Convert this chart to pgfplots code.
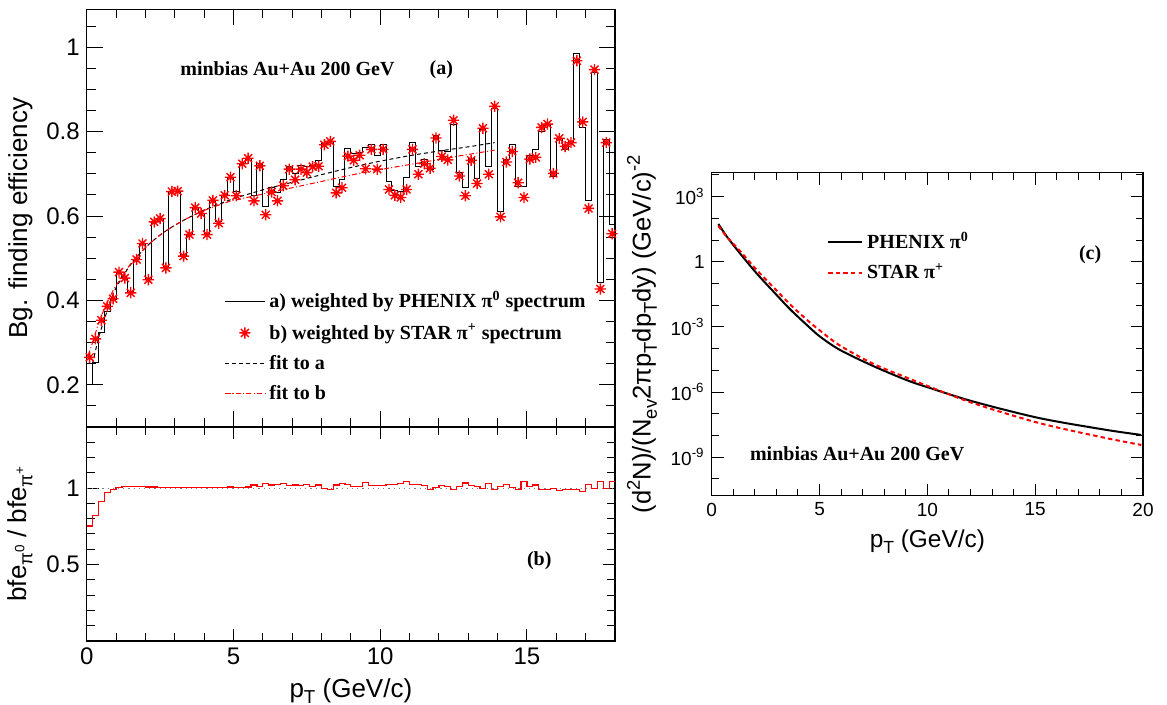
\documentclass[border=0pt]{standalone}
\usepackage{fontspec}
\setmainfont{Liberation Sans}
\newfontfamily\tnr{Liberation Serif}
\usepackage{graphicx}
\usepackage{pgfplots}
\usepackage{pgfplotstable}
\pgfplotsset{compat=1.18}

% ROOT style 8-spoke star marker
\pgfdeclareplotmark{rstar}{%
  \pgfpathmoveto{\pgfqpoint{-\pgfplotmarksize}{0pt}}\pgfpathlineto{\pgfqpoint{\pgfplotmarksize}{0pt}}%
  \pgfpathmoveto{\pgfqpoint{0pt}{-\pgfplotmarksize}}\pgfpathlineto{\pgfqpoint{0pt}{\pgfplotmarksize}}%
  \pgfpathmoveto{\pgfqpoint{-0.707\pgfplotmarksize}{-0.707\pgfplotmarksize}}\pgfpathlineto{\pgfqpoint{0.707\pgfplotmarksize}{0.707\pgfplotmarksize}}%
  \pgfpathmoveto{\pgfqpoint{-0.707\pgfplotmarksize}{0.707\pgfplotmarksize}}\pgfpathlineto{\pgfqpoint{0.707\pgfplotmarksize}{-0.707\pgfplotmarksize}}%
  \pgfusepathqstroke}

\newcommand{\sbs}[1]{\raisebox{-0.45ex}{\scalebox{0.72}{#1}}}
\newcommand{\sps}[1]{\raisebox{0.8ex}{\scalebox{0.72}{#1}}}

% 0.2 GeV/c bins: lower edge, centre, a (PHENIX weighted), b (STAR weighted), ratio
\pgfplotstableread{
lo mid a b r
0.0 0.1 0.200 0.265 0.752
0.2 0.3 0.254 0.309 0.823
0.4 0.5 0.323 0.353 0.914
0.6 0.7 0.374 0.386 0.970
0.8 0.9 0.402 0.404 0.991
1.0 1.1 0.467 0.467 1.006
1.2 1.3 0.453 0.453 1.010
1.4 1.5 0.418 0.418 1.010
1.6 1.7 0.497 0.497 1.012
1.8 1.9 0.535 0.535 1.010
2.0 2.1 0.449 0.449 1.008
2.2 2.3 0.586 0.586 1.008
2.4 2.5 0.594 0.594 1.006
2.6 2.7 0.477 0.477 1.004
2.8 2.9 0.658 0.658 1.004
3.0 3.1 0.659 0.659 1.003
3.2 3.3 0.505 0.505 1.002
3.4 3.5 0.556 0.556 1.002
3.6 3.7 0.620 0.620 1.002
3.8 3.9 0.606 0.606 1.003
4.0 4.1 0.556 0.556 1.003
4.2 4.3 0.637 0.637 1.004
4.4 4.5 0.588 0.583 1.006
4.6 4.7 0.649 0.649 1.004
4.8 4.9 0.691 0.692 1.008
5.0 5.1 0.657 0.648 1.006
5.2 5.3 0.724 0.724 1.004
5.4 5.5 0.737 0.737 1.008
5.6 5.7 0.649 0.636 1.020
5.8 5.9 0.724 0.719 1.009
6.0 6.1 0.622 0.603 1.031
6.2 6.3 0.668 0.657 1.020
6.4 6.5 0.655 0.636 1.026
6.6 6.7 0.686 0.672 1.031
6.8 6.9 0.718 0.711 1.015
7.0 7.1 0.700 0.686 1.020
7.2 7.3 0.720 0.711 1.015
7.4 7.5 0.717 0.703 1.024
7.6 7.7 0.720 0.717 1.011
7.8 7.9 0.731 0.718 1.020
8.0 8.1 0.772 0.769 1.000
8.2 8.3 0.777 0.777 0.993
8.4 8.5 0.669 0.655 1.020
8.6 8.7 0.687 0.667 1.031
8.8 8.9 0.759 0.742 1.026
9.0 9.1 0.749 0.732 1.011
9.2 9.3 0.751 0.744 1.009
9.4 9.5 0.762 0.712 1.037
9.6 9.7 0.769 0.758 1.015
9.8 9.9 0.743 0.711 1.015
10.0 10.1 0.769 0.758 1.015
10.2 10.3 0.683 0.663 1.026
10.4 10.5 0.661 0.649 1.022
10.6 10.7 0.657 0.644 1.031
10.8 10.9 0.691 0.663 1.044
11.0 11.1 0.774 0.758 1.026
11.2 11.3 0.717 0.699 1.022
11.4 11.5 0.735 0.724 1.015
11.6 11.7 0.711 0.713 0.989
11.8 11.9 0.792 0.785 1.004
12.0 12.1 0.756 0.741 1.015
12.2 12.3 0.754 0.733 1.011
12.4 12.5 0.816 0.827 0.989
12.6 12.7 0.703 0.695 1.009
12.8 12.9 0.667 0.648 1.033
13.0 13.1 0.736 0.732 1.015
13.2 13.3 0.690 0.677 1.011
13.4 13.5 0.806 0.808 1.000
13.6 13.7 0.717 0.699 1.031
13.8 13.9 0.854 0.860 0.989
14.0 14.1 0.610 0.598 1.011
14.2 14.3 0.735 0.728 1.026
14.4 14.5 0.769 0.753 1.004
14.6 14.7 0.671 0.679 0.993
14.8 14.9 0.671 0.644 1.046
15.0 15.1 0.743 0.735 1.009
15.2 15.3 0.757 0.739 1.020
15.4 15.5 0.800 0.810 0.989
15.6 15.7 0.818 0.818 0.993
15.8 15.9 0.693 0.701 1.000
16.0 16.1 0.784 0.784 0.982
16.2 16.3 0.757 0.765 0.993
16.4 16.5 0.776 0.774 0.989
16.6 16.7 0.986 0.968 0.993
16.8 16.9 0.810 0.823 0.980
17.0 17.1 0.636 0.618 1.026
17.2 17.3 0.941 0.947 0.998
17.4 17.5 0.442 0.427 1.042
17.6 17.7 0.782 0.774 0.998
17.8 17.9 0.580 0.558 1.044
18.0 18.1 0.580 0.558 1.044
}\hist

\pgfplotsset{
  rootaxis/.style={
    scale only axis, anchor=north west,
    axis line style={line width=0.6pt},
    tick align=inside, xtick pos=both, ytick pos=both,
    every tick/.style={black, line width=0.5pt},
    /pgf/number format/assume math mode=true,
    legend image code/.code={\draw[mark repeat=2,mark phase=2,##1] plot coordinates {(0pt,0pt) (10pt,0pt) (20pt,0pt)};},
  },
  leftfont/.style={
    tick label style={font=\fontsize{12}{12}\selectfont},
    label style={font=\fontsize{13}{13}\selectfont},
  },
}

\begin{document}
\begin{tikzpicture}
\path[use as bounding box] (0,0) rectangle (583.5pt,-352.5pt);

% (a) efficiency
\begin{axis}[rootaxis, leftfont,
  at={(43.35pt,-4.65pt)}, width=264.15pt, height=208.85pt,
  xmin=0, xmax=18, ymin=0.1, ymax=1.09,
  xtick={0,5,10,15}, minor xtick={1,2,3,4,6,7,8,9,11,12,13,14,16,17},
  xticklabels={},
  ytick={0.2,0.4,0.6,0.8,1},
  minor ytick={0.15,0.25,0.3,0.35,0.45,0.5,0.55,0.65,0.7,0.75,0.85,0.9,0.95,1.05},
  major tick length=8pt, minor tick length=4.5pt,
  ylabel={Bg. finding efficiency},
  legend style={at={(0.2485,0.345)}, anchor=north west, draw=none, fill=none,
    font=\tnr\bfseries\fontsize{10}{12}\selectfont, row sep=2.5pt},
  legend cell align=left,
]
\addplot[black, const plot mark left, line width=0.5pt] table[x=lo, y=a] {\hist};
\addlegendentry{a) weighted by PHENIX π\textsuperscript{0} spectrum}
\addplot[red, only marks, mark=rstar, mark size=2.8pt, line width=0.7pt,
  restrict x to domain=0:18] table[x=mid, y=b] {\hist};
\addlegendentry{b) weighted by STAR π\textsuperscript{+} spectrum}
\addplot[black, smooth, line width=0.5pt, dash pattern=on 2pt off 1.5pt] coordinates {
(0.2,0.25) (0.4,0.31) (0.6,0.355) (0.8,0.395) (1.0,0.43) (1.5,0.485) (2,0.525)
(2.5,0.555) (3,0.578) (3.5,0.597) (4,0.614) (4.5,0.628) (5,0.641) (6,0.662)
(7,0.680) (8,0.698) (9,0.715) (10,0.730) (11,0.743) (12,0.754) (13,0.764) (13.9,0.774)
};
\addlegendentry{fit to a}
\addplot[red, smooth, line width=0.5pt, dash pattern=on 2.5pt off 1.2pt on 0.5pt off 1.2pt] coordinates {
(0.05,0.27) (0.2,0.30) (0.4,0.345) (0.6,0.38) (0.8,0.41) (1.0,0.435) (1.5,0.487)
(2,0.525) (2.5,0.555) (3,0.578) (3.5,0.597) (4,0.613) (4.5,0.626) (5,0.637)
(6,0.652) (7,0.667) (8,0.682) (9,0.697) (10,0.710) (11,0.722) (12,0.734) (13,0.746) (13.9,0.756)
};
\addlegendentry{fit to b}
\node[anchor=west, font=\tnr\bfseries\fontsize{10}{12}\selectfont] at (axis cs:2.95,0.949) {minbias Au+Au 200 GeV};
\node[font=\tnr\bfseries\fontsize{10}{12}\selectfont] at (axis cs:12.08,0.947) {(a)};
\end{axis}

% (b) ratio
\begin{axis}[rootaxis, leftfont,
  at={(43.35pt,-213.5pt)}, width=264.15pt, height=107pt,
  xmin=0, xmax=18, ymin=0, ymax=1.4,
  xtick={0,5,10,15}, minor xtick={1,2,3,4,6,7,8,9,11,12,13,14,16,17},
  ytick={0.5,1}, minor ytick={0.1,0.2,0.3,0.4,0.6,0.7,0.8,0.9,1.1,1.2,1.3},
  major tick length=6pt, minor tick length=4pt,
  xlabel={p\sbs{T} (GeV/c)},
  ylabel={bfe\sbs{π\sps{0}} / bfe\sbs{π\sps{+}}},
]
\addplot[gray, dotted, line width=0.6pt] coordinates {(0,1) (18,1)};
\addplot[red, const plot mark left, line width=0.6pt] table[x=lo, y=r] {\hist};
\node[font=\tnr\bfseries\fontsize{10}{12}\selectfont] at (axis cs:15.42,0.526) {(b)};
\end{axis}

% (c) spectra
\begin{axis}[rootaxis,
  at={(355.85pt,-86.35pt)}, width=215.65pt, height=161.5pt,
  xmin=0, xmax=20, ymode=log, ymin=1.7e-11, ymax=1.26e4,
  xtick={0,5,10,15,20}, minor xtick={1,2,3,4,6,7,8,9,11,12,13,14,16,17,18,19},
  ytick={1e-9,1e-6,1e-3,1,1e3},
  yticklabels={10\textsuperscript{-9},10\textsuperscript{-6},10\textsuperscript{-3},1,10\textsuperscript{3}},
  minor ytick={1e-10,1e-8,1e-7,1e-5,1e-4,1e-2,1e-1,1e1,1e2,1e4},
  major tick length=6pt, minor tick length=3.5pt,
  tick label style={font=\fontsize{9.5}{9.5}\selectfont},
  xlabel style={font=\fontsize{12.2}{12.2}\selectfont},
  ylabel style={font=\fontsize{12.8}{12.8}\selectfont},
  xlabel={p\sbs{T} (GeV/c)},
  ylabel={(d\sps{2}N)/(N\sbs{ev}2πp\sbs{T}dp\sbs{T}dy) (GeV/c)\sps{-2}},
  legend style={at={(0.253,0.842)}, anchor=north west, draw=none, fill=none,
    font=\tnr\bfseries\fontsize{10}{12}\selectfont, row sep=2pt},
  legend image code/.code={\draw[#1] (0pt,0pt) -- (17pt,0pt);},
  legend cell align=left,
]
\addplot[black, smooth, line width=1pt] coordinates {
(0.31,55) (0.7,14.5) (1.31,2.45) (2.08,0.295) (2.86,0.0427) (3.63,6.6e-3)
(4.40,1.26e-3) (5.02,3.6e-4) (5.95,8.7e-5) (7.49,1.58e-5) (9.03,3.6e-6)
(9.96,1.74e-6) (12.12,3.7e-7) (15.21,6.3e-8) (18.3,1.82e-8) (19.92,1.07e-8)
};
\addlegendentry{PHENIX π\textsuperscript{0}}
\addplot[red, smooth, line width=1pt, dash pattern=on 2.2pt off 1.6pt] coordinates {
(0.31,44.7) (0.7,14.1) (1.31,3.16) (2.08,0.427) (2.86,0.0676) (3.63,0.011)
(4.40,2.19e-3) (5.02,6.8e-4) (5.95,1.38e-4) (7.49,2.0e-5) (9.03,4.7e-6)
(9.96,2.0e-6) (12.12,3.1e-7) (15.21,3.7e-8) (18.3,7.6e-9) (19.92,3.7e-9)
};
\addlegendentry{STAR π\textsuperscript{+}}
\node[font=\tnr\bfseries\fontsize{10}{12}\selectfont] at (axis cs:17.55,2.1) {(c)};
\node[anchor=west, font=\tnr\bfseries\fontsize{10}{12}\selectfont] at (axis cs:1.45,1.5e-9) {minbias Au+Au 200 GeV};
\end{axis}
\end{tikzpicture}
\end{document}
